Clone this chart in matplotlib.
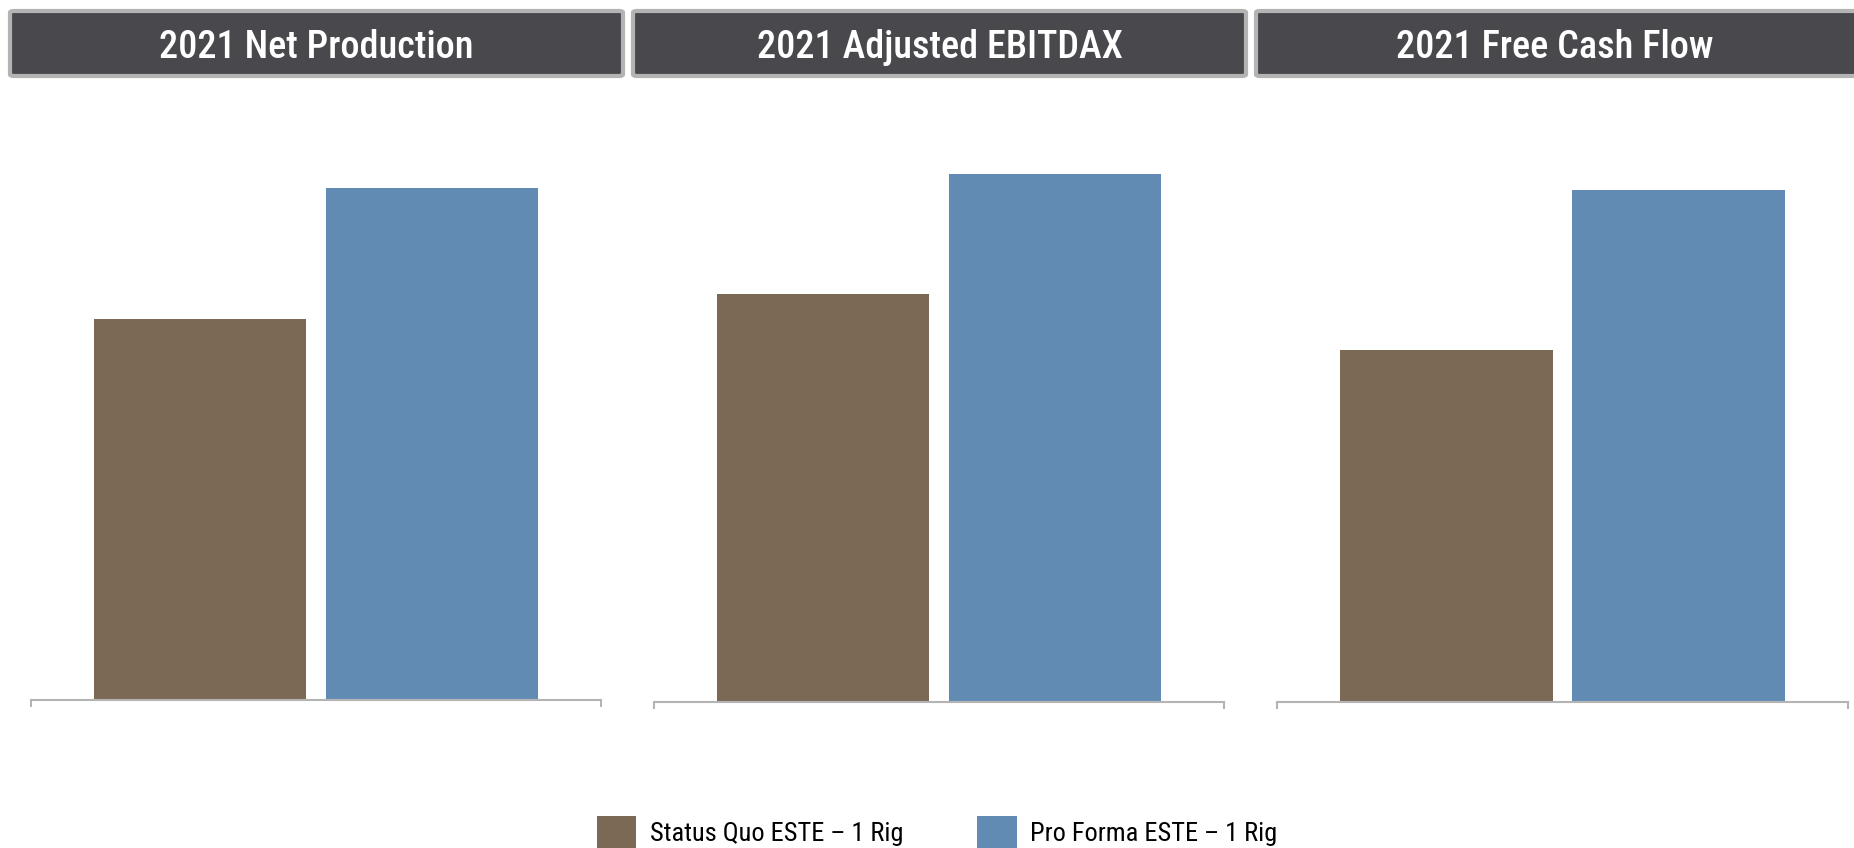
import matplotlib
matplotlib.use("Agg")
import matplotlib.pyplot as plt
from matplotlib.patches import FancyBboxPatch, Patch

# condensed faces first, plain DejaVu if none of them is installed
narrow = ["Roboto Condensed", "Liberation Sans Narrow", "Open Sans Condensed",
          "DejaVu Sans"]

# 2021 outlook, status quo vs pro forma (relative units, same scale in every panel)
titles = ["2021 Net Production", "2021 Adjusted EBITDAX", "2021 Free Cash Flow"]
series_names = ["Status Quo ESTE \u2013 1 Rig", "Pro Forma ESTE \u2013 1 Rig"]
status_quo = [381, 408, 352]
pro_forma = [512, 528, 512]

colors = ["#7b6955", "#628bb4"]
axis_gray = "#b4b4b4"

W, H = 1854, 848
fig = plt.figure(figsize=(W / 100, H / 100), dpi=100)

# pixel boxes for each panel: left, baseline, right
panels = [(31, 700, 601), (654, 702, 1224), (1277, 702, 1848)]
headers = [(10, 623), (633, 1246), (1256, 1870)]
ymax = 600

for i, title in enumerate(titles):
    left, base, right = panels[i]
    ax = fig.add_axes([left / W, (H - base) / H, (right - left) / W, ymax / H])
    vals = [status_quo[i], pro_forma[i]]
    ax.bar([0, 1], vals, width=0.914, color=colors, zorder=1)
    ax.set_ylim(0, ymax)
    ax.set_xlim(-0.728, 1.728)
    for s in ["top", "left", "right"]:
        ax.spines[s].set_visible(False)
    ax.spines["bottom"].set_color(axis_gray)
    ax.spines["bottom"].set_linewidth(1.5)
    ax.set_yticks([])
    ax.set_xticks([-0.728, 1.728])
    ax.set_xticklabels([])
    ax.tick_params(axis="x", length=5, width=1.5, color=axis_gray, direction="out")

    # header banner
    x0, x1 = headers[i]
    box = FancyBboxPatch((x0 / W, (H - 76) / H), (x1 - x0) / W, 65 / H,
                         boxstyle="round,pad=0,rounding_size=0.002",
                         transform=fig.transFigure, facecolor="#49494d",
                         edgecolor=axis_gray, linewidth=3, zorder=2)
    fig.patches.append(box)
    cx = (x0 + x1) / 2 if i < 2 else (x0 + W) / 2
    fig.text(cx / W, (H - 43) / H, title, color="white", fontsize=27.5,
             family=narrow, fontstretch="condensed", fontweight="medium",
             ha="center", va="center_baseline")

handles = [Patch(facecolor=c, edgecolor="none") for c in colors]
fig.legend(handles, series_names, loc="center", bbox_to_anchor=(937 / W, 16 / H),
           ncol=2, frameon=False,
           prop={"family": narrow, "stretch": "condensed", "size": 19},
           handlelength=1.5, handleheight=1.5, handletextpad=0.5,
           columnspacing=2.8, borderpad=0)

fig.savefig("out.png", dpi=100)
